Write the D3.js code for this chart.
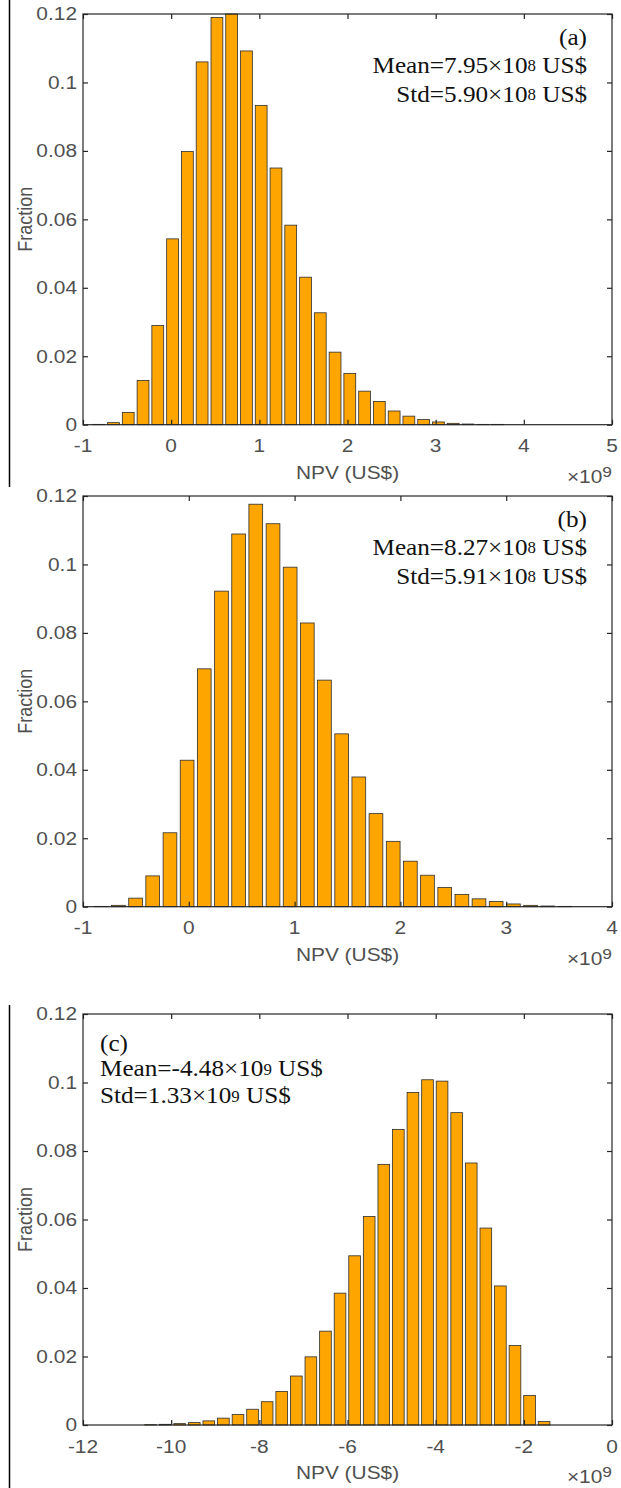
<!DOCTYPE html>
<html>
<head>
<meta charset="utf-8">
<title>NPV histograms</title>
<script src="https://cdnjs.cloudflare.com/ajax/libs/d3/7.8.5/d3.min.js"></script>
<style>
body{ margin:0; background:#fff; }
svg{ display:block; }
</style>
</head>
<body>
<svg width="621" height="1488"></svg>
<script>
// bin centres (x 1e9 US$) and fraction in each bin
var centersA = [-0.822, -0.654, -0.487, -0.319, -0.152, 0.016, 0.184, 0.351, 0.519, 0.686,
                0.854, 1.021, 1.189, 1.356, 1.524, 1.691, 1.859, 2.026, 2.194, 2.361,
                2.529, 2.696, 2.864, 3.031, 3.199, 3.366, 3.534, 3.701];
var fracA = [0.0001, 0.0006, 0.0036, 0.0129, 0.0290, 0.0543, 0.0798, 0.1060, 0.1190, 0.1200,
             0.1092, 0.0933, 0.0750, 0.0583, 0.0431, 0.0327, 0.0212, 0.0150, 0.0098, 0.0068,
             0.0040, 0.0025, 0.0015, 0.0008, 0.0004, 0.0002, 0.0001, 0.0001];
var binWA = 0.1675;

var centersB = [-0.828, -0.665, -0.503, -0.341, -0.178, -0.016, 0.146, 0.309, 0.471, 0.633,
                0.796, 0.958, 1.120, 1.282, 1.445, 1.607, 1.769, 1.932, 2.094, 2.256,
                2.419, 2.581, 2.743, 2.905, 3.068, 3.230, 3.392, 3.555];
var fracB = [0.0001, 0.0004, 0.0025, 0.0090, 0.0216, 0.0428, 0.0695, 0.0922, 0.1089, 0.1176,
             0.1119, 0.0992, 0.0829, 0.0662, 0.0505, 0.0379, 0.0272, 0.0191, 0.0133, 0.0092,
             0.0056, 0.0036, 0.0023, 0.0015, 0.0008, 0.0004, 0.0002, 0.0001];
var binWB = 0.1623;

var centersC = [-10.468, -10.138, -9.807, -9.476, -9.146, -8.815, -8.484, -8.154, -7.823, -7.492,
                -7.161, -6.831, -6.500, -6.169, -5.839, -5.508, -5.177, -4.847, -4.516, -4.185,
                -3.855, -3.524, -3.193, -2.862, -2.532, -2.201, -1.870, -1.540];
var fracC = [0.0001, 0.0002, 0.0004, 0.0007, 0.0012, 0.0020, 0.0031, 0.0046, 0.0068, 0.0098,
             0.0143, 0.0199, 0.0274, 0.0385, 0.0494, 0.0609, 0.0761, 0.0863, 0.0971, 0.1008,
             0.1004, 0.0912, 0.0765, 0.0575, 0.0406, 0.0232, 0.0086, 0.0010];
var binWC = 0.3307;

var ticksXA = [-1, 0, 1, 2, 3, 4, 5];
var ticksXB = [-1, 0, 1, 2, 3, 4];
var ticksXC = [-12, -10, -8, -6, -4, -2, 0];
var ticksY = [0, 0.02, 0.04, 0.06, 0.08, 0.1, 0.12];

// panel tag, mean, std (mantissa, exponent)
var statsA = ["(a)", "7.95", "8", "5.90", "8"];
var statsB = ["(b)", "8.27", "8", "5.91", "8"];
var statsC = ["(c)", "-4.48", "9", "1.33", "9"];

var svg = d3.select("svg");
var SX = 1.16;           // the source figure is stretched sideways
var SXS = 1.05;
var sans = "'Liberation Sans', Arial, sans-serif";
var serif = "'Liberation Serif', 'Times New Roman', serif";
var txtCol = "#505050";
var axCol = "#262626";
var L = 83, R = 612;

function stext(x, y, size, family, sx){
    return svg.append("text")
        .attr("transform", "translate(" + x + "," + y + ") scale(" + (sx || SX) + ",1)")
        .attr("font-family", family)
        .attr("font-size", size);
}

function statLine(t, lead, mant, expo){
    t.append("tspan").text(lead + mant + "×10");
    t.append("tspan").attr("font-size", 16).attr("dy", -1.5).text(expo);
    t.append("tspan").attr("dy", 1.5).text(" US$");
}

function drawPanel(top, bottom, centers, fracs, binW, xDomain, xTicks, stats, right){
    var x = d3.scaleLinear().domain(xDomain).range([L, R]);
    var y = d3.scaleLinear().domain([0, 0.12]).range([bottom, top]);

    svg.append("g").selectAll("rect.bar")
        .data(centers)
        .enter()
        .append("rect")
        .attr("class", "bar")
        .attr("x", function(d){ return x(d - 0.4 * binW); })
        .attr("width", function(d){ return x(d + 0.4 * binW) - x(d - 0.4 * binW); })
        .attr("y", function(d, i){ return y(fracs[i]); })
        .attr("height", function(d, i){ return y(0) - y(fracs[i]); })
        .attr("fill", "#FFA500")
        .attr("stroke", "#2e2e2e")
        .attr("stroke-width", 0.8);

    // ticks point inward on all four sides
    var axes = [
        [d3.axisBottom(x).tickValues(xTicks), "translate(0," + bottom + ")"],
        [d3.axisTop(x).tickValues(xTicks), "translate(0," + top + ")"],
        [d3.axisLeft(y).tickValues(ticksY), "translate(" + L + ",0)"],
        [d3.axisRight(y).tickValues(ticksY), "translate(" + R + ",0)"]
    ];
    axes.forEach(function(a){
        svg.append("g")
            .attr("transform", a[1])
            .attr("color", axCol)
            .call(a[0].tickSize(-5).tickFormat(""))
            .call(function(g){ g.select(".domain").remove(); })
            .selectAll("line").attr("stroke-width", 1.2);
    });

    svg.append("rect")
        .attr("x", L).attr("y", top)
        .attr("width", R - L).attr("height", bottom - top)
        .attr("fill", "none")
        .attr("stroke", axCol)
        .attr("stroke-width", 1.2);

    xTicks.forEach(function(v){
        stext(x(v), bottom + 27.5, 18, sans)
            .attr("text-anchor", "middle").attr("fill", txtCol).text(String(v));
    });
    ticksY.forEach(function(v){
        stext(L - 6, y(v) + 6.4, 18, sans)
            .attr("text-anchor", "end").attr("fill", txtCol).text(String(v));
    });

    stext((L + R) / 2, bottom + 54, 18, sans)
        .attr("text-anchor", "middle").attr("fill", txtCol).text("NPV (US$)");

    var ex = stext(R, bottom + 58, 18, sans).attr("text-anchor", "end").attr("fill", txtCol);
    ex.append("tspan").text("×10");
    ex.append("tspan").attr("font-size", 15).attr("dy", -6).text("9");

    svg.append("text")
        .attr("transform", "translate(32," + ((top + bottom) / 2) + ") scale(" + SX + ",1) rotate(-90)")
        .attr("font-family", sans).attr("font-size", 18)
        .attr("text-anchor", "middle").attr("fill", txtCol)
        .text("Fraction");

    // stats text
    var ax = right ? R - 25 : L + 17;
    var anchor = right ? "end" : "start";
    var ys = right ? [top + 31, top + 58.5, top + 87.5] : [top + 37, top + 62, top + 89];
    stext(ax, ys[0], 24, serif, SXS).attr("text-anchor", anchor).attr("fill", "#111").text(stats[0]);
    statLine(stext(ax, ys[1], 24, serif, SXS).attr("text-anchor", anchor).attr("fill", "#111"),
             "Mean=", stats[1], stats[2]);
    statLine(stext(ax, ys[2], 24, serif, SXS).attr("text-anchor", anchor).attr("fill", "#111"),
             "Std=", stats[3], stats[4]);
}

drawPanel(14, 424.7, centersA, fracA, binWA, [-1, 5], ticksXA, statsA, true);
drawPanel(496, 906.7, centersB, fracB, binWB, [-1, 4], ticksXB, statsB, true);
drawPanel(1014, 1425, centersC, fracC, binWC, [-12, 0], ticksXC, statsC, false);

// crop-edge rules left over from the source page
svg.append("line").attr("x1", 9.5).attr("x2", 9.5).attr("y1", 0).attr("y2", 487)
    .attr("stroke", "#000").attr("stroke-width", 1.5);
svg.append("line").attr("x1", 9.5).attr("x2", 9.5).attr("y1", 1005).attr("y2", 1488)
    .attr("stroke", "#000").attr("stroke-width", 1.5);
</script>
</body>
</html>
